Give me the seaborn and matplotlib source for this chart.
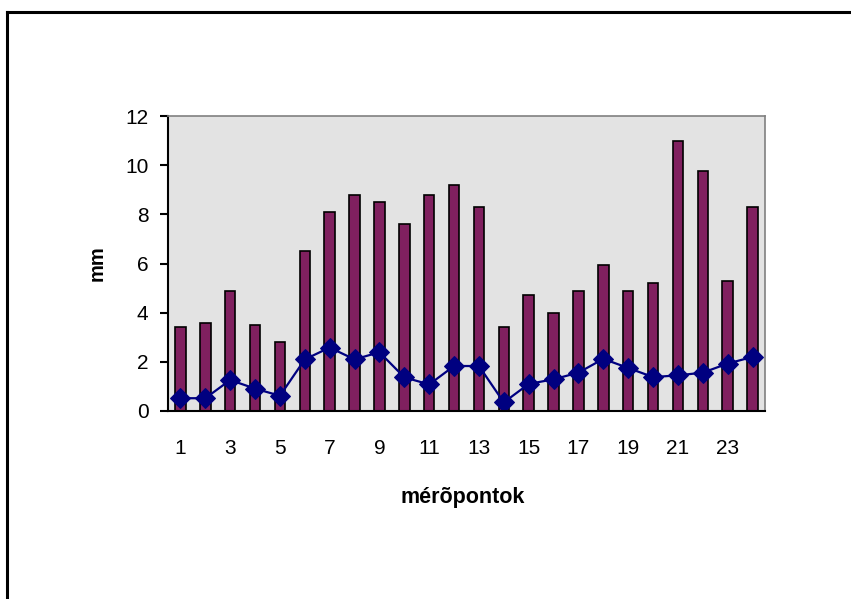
import numpy as np
import pandas as pd
import matplotlib
matplotlib.use("Agg")
import matplotlib.pyplot as plt
from matplotlib.lines import Line2D
import seaborn as sns

categories = [str(i) for i in range(1, 25)]
bar_values = [3.4, 3.6, 4.9, 3.5, 2.8, 6.5, 8.1, 8.8, 8.5, 7.6, 8.8, 9.2,
              8.3, 3.4, 4.7, 4.0, 4.9, 5.95, 4.9, 5.2, 11.0, 9.75, 5.3, 8.3]
line_values = [0.52, 0.52, 1.26, 0.91, 0.62, 2.1, 2.58, 2.1, 2.39, 1.37, 1.08, 1.83,
               1.83, 0.35, 1.1, 1.29, 1.56, 2.12, 1.75, 1.38, 1.45, 1.56, 1.93, 2.2]
tick_labels = [str(i) for i in range(1, 25, 2)]
y_ticks = [0, 2, 4, 6, 8, 10, 12]

sns.set_theme(style="white")
plt.rcParams['font.family'] = ['Liberation Sans', 'DejaVu Sans']
plt.rcParams['text.color'] = 'black'
plt.rcParams['axes.labelcolor'] = 'black'
plt.rcParams['xtick.color'] = 'black'
plt.rcParams['ytick.color'] = 'black'

W, H = 851, 599
fig = plt.figure(figsize=(W / 100, H / 100), dpi=100)
left, right, top, bottom = 168, 765, 116, 411
ax = fig.add_axes([left / W, 1 - bottom / H, (right - left) / W, (bottom - top) / H])
ax.set_facecolor('#E3E3E3')

df = pd.DataFrame({'cat': categories, 'val': bar_values, 'line': line_values})
df['pos'] = np.arange(len(categories))

sns.barplot(data=df, x='cat', y='val', ax=ax, color='#80205F', width=0.42,
            edgecolor='black', linewidth=1.2, saturation=1)
for p in ax.patches:
    p.set_facecolor('#80205F')
sns.lineplot(data=df, x='pos', y='line', ax=ax, color='#000080', linewidth=1.6,
             marker='D', markersize=10, markeredgecolor='#000080', markerfacecolor='#000080')

ax.set_xlim(-0.5, len(categories) - 0.5)
ax.set_ylim(0, 12)
ax.set_yticks(y_ticks)
ax.set_yticklabels([str(v) for v in y_ticks], fontsize=15, color='black')

ax.set_xticks(np.arange(-0.5, len(categories), 1.0))
ax.set_xticklabels([])
ax.set_xticks(np.arange(0, len(categories), 2), minor=True)
ax.set_xticklabels(tick_labels, minor=True, fontsize=15, color='black')
ax.tick_params(axis='x', which='major', direction='inout', length=12, width=1.5, color='black')
ax.tick_params(axis='x', which='minor', length=0, pad=20)
ax.tick_params(axis='y', which='major', direction='out', length=6, width=1.5, color='black', pad=8, left=True)

for s in ['top', 'right']:
    ax.spines[s].set_color('#808080')
    ax.spines[s].set_linewidth(1.2)
for s in ['left', 'bottom']:
    ax.spines[s].set_color('black')
    ax.spines[s].set_linewidth(1.5)

ax.set_xlabel('mérõpontok', fontsize=15.5, fontweight='bold', color='black')
ax.set_ylabel('mm', fontsize=14.5, fontweight='bold', color='black')
ax.xaxis.set_label_coords((463 - left) / (right - left), (bottom - 497) / (bottom - top))
ax.xaxis.label.set_va('center')
ax.yaxis.set_label_coords((97 - left) / (right - left), 0.5)
ax.yaxis.label.set_va('center')

# outer frame (partially outside the image)
fig.add_artist(Line2D([6.5 / W, 6.5 / W], [0, 1 - 11.5 / H], color='black', linewidth=2.2,
                      transform=fig.transFigure, solid_capstyle='projecting'))
fig.add_artist(Line2D([6.5 / W, 1.0], [1 - 11.5 / H, 1 - 11.5 / H], color='black', linewidth=2.2,
                      transform=fig.transFigure, solid_capstyle='projecting'))

fig.savefig('out.png', dpi=100)
